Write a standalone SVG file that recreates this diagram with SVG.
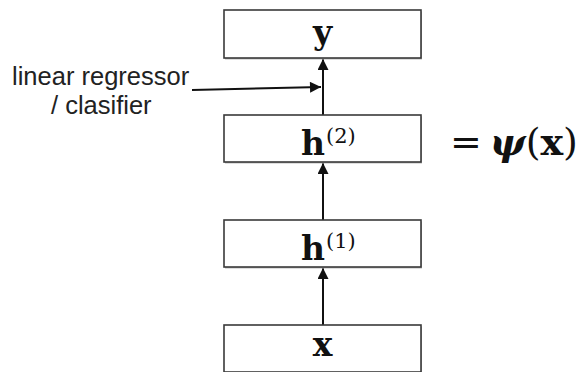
<svg xmlns="http://www.w3.org/2000/svg" width="580" height="372" viewBox="0 0 580 372">
<style>
.box{fill:#fff;stroke:#3a3a3a;stroke-width:1.6}
.shadow{fill:#bbb;stroke:none}
.math{font-family:"DejaVu Serif","Liberation Serif",serif;font-weight:bold;font-size:33px;fill:#111}
.sup{font-family:"DejaVu Serif","Liberation Serif",serif;font-weight:normal;font-size:21px;fill:#111}
.lbl{font-family:"Liberation Sans",Arial,sans-serif;font-size:25.5px;fill:#222}
.conn{stroke:#111;stroke-width:2;fill:none}
</style>
<defs>
<marker id="ah" viewBox="0 0 10 10" refX="10" refY="5" markerWidth="6" markerHeight="5.5" orient="auto" markerUnits="strokeWidth">
<path d="M0,0 L10,5 L0,10 z" fill="#111"/>
</marker>
</defs>
<g id="connectors">
<line class="conn" x1="323" y1="115" x2="323" y2="59" marker-end="url(#ah)"/>
<line class="conn" x1="323" y1="220" x2="323" y2="163" marker-end="url(#ah)"/>
<line class="conn" x1="323" y1="325" x2="323" y2="268" marker-end="url(#ah)"/>
<line class="conn" x1="192" y1="90" x2="321" y2="87" marker-end="url(#ah)"/>
</g>
<g id="node-y">
<rect class="shadow" x="225" y="11.5" width="197" height="48"/>
<rect class="box" x="224" y="10" width="197" height="48"/>
<text class="math" x="322.5" y="44" text-anchor="middle">y</text>
</g>
<g id="node-h2">
<rect class="shadow" x="225" y="116.5" width="197" height="47"/>
<rect class="box" x="224" y="115" width="197" height="47"/>
<text class="math" x="301" y="155">h</text>
<text class="sup" x="326" y="143">(2)</text>
</g>
<g id="node-h1">
<rect class="shadow" x="225" y="221.5" width="197" height="47"/>
<rect class="box" x="224" y="220" width="197" height="47"/>
<text class="math" x="301" y="260">h</text>
<text class="sup" x="326" y="248">(1)</text>
</g>
<g id="node-x">
<rect class="shadow" x="225" y="326.5" width="197" height="47"/>
<rect class="box" x="224" y="325" width="197" height="47"/>
<text class="math" x="322.5" y="356" text-anchor="middle">x</text>
</g>
<g id="label-linear">
<text class="lbl" x="12" y="85">linear regressor</text>
<text class="lbl" x="51" y="114">/ clasifier</text>
</g>
<g id="label-psi">
<text class="math" x="450" y="155" style="font-size:38px"><tspan font-weight="normal">=</tspan><tspan dx="8" font-style="italic">ψ</tspan><tspan font-weight="normal">(</tspan>x<tspan font-weight="normal">)</tspan></text>
</g>
</svg>
